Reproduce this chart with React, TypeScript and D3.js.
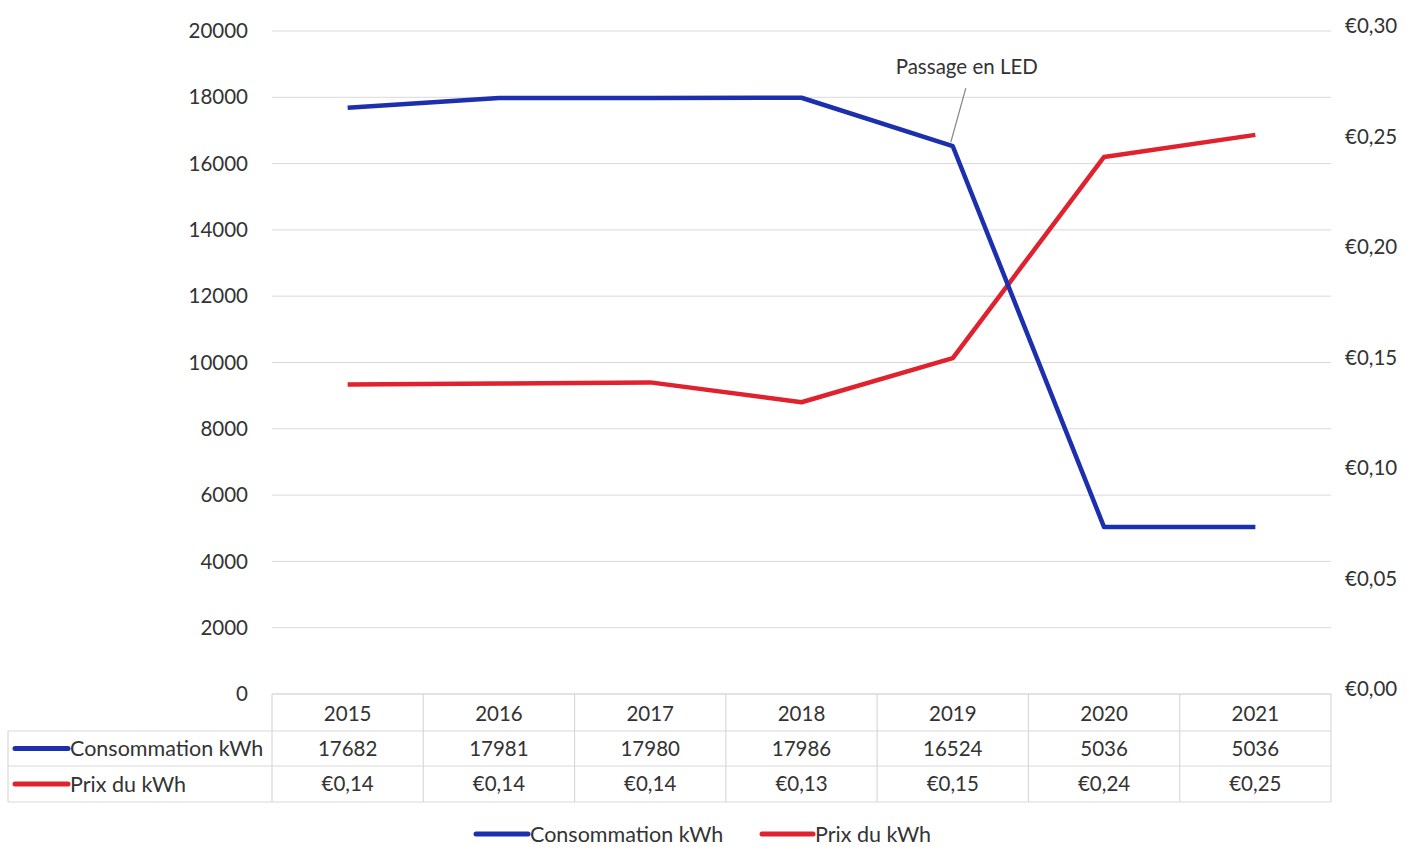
import React from 'react';
import * as d3 from 'd3';

// values
const years = ['2015', '2016', '2017', '2018', '2019', '2020', '2021'];
const consommation = [17682, 17981, 17980, 17986, 16524, 5036, 5036];
const consoLabels = ['17682', '17981', '17980', '17986', '16524', '5036', '5036'];
const prix = [0.14, 0.1405, 0.141, 0.132, 0.152, 0.243, 0.253];
const prixLabels = ['€0,14', '€0,14', '€0,14', '€0,13', '€0,15', '€0,24', '€0,25'];
const leftTicks = [0, 2000, 4000, 6000, 8000, 10000, 12000, 14000, 16000, 18000, 20000];
const rightTicks = [0, 0.05, 0.1, 0.15, 0.2, 0.25, 0.3];

const W = 1406;
const H = 847;
const FONT = 'Lato, "Open Sans", sans-serif';
const BLUE = '#1c2fae';
const RED = '#e0222f';
const GRID = '#d9d9d9';
const TXT = '#333';
const NUM = 20.5; // digits
const LBL = 21.5; // words

const fmtEuro = (v: number) => '€' + v.toFixed(2).replace('.', ',');

export default function App() {
  const x = d3.scaleBand().domain(years).range([272, 1331]);
  const yL = d3.scaleLinear().domain([0, 20000]).range([694, 31]);
  const yR = d3.scaleLinear().domain([0, 0.3]).range([694, 31]);
  const cx = (y: string) => (x(y) ?? 0) + x.bandwidth() / 2;

  const lineL = d3.line<number>().x((_, i) => cx(years[i])).y(d => yL(d));
  const lineR = d3.line<number>().x((_, i) => cx(years[i])).y(d => yR(d));

  // table rows
  const rowTop = [694, 731, 766];
  const rowBot = 802;
  const labelX0 = 8;
  const r2 = (rowTop[1] + rowTop[2]) / 2;
  const r3 = (rowTop[2] + rowBot) / 2;

  const ann = { x: cx('2019'), y: yL(consommation[4]) };

  return (
    <svg width={W} height={H} style={{ position: 'absolute', left: 0, top: 0, background: '#fff' }}
      fontFamily={FONT}>
      {/* grid lines */}
      {leftTicks.map(t => (
        <line key={'g' + t} x1={272} x2={1331} y1={yL(t)} y2={yL(t)} stroke={GRID} strokeWidth={1} />
      ))}
      {/* left axis labels */}
      {leftTicks.map(t => (
        <text key={'l' + t} x={248} y={yL(t)} dy="0.35em" textAnchor="end" fontSize={NUM} fill={TXT}>
          {t}
        </text>
      ))}
      {/* right axis labels */}
      {rightTicks.map(t => (
        <text key={'r' + t} x={1345} y={yR(t) - 5} dy="0.35em" textAnchor="start" fontSize={NUM} fill={TXT}>
          {fmtEuro(t)}
        </text>
      ))}

      {/* series */}
      <path d={lineR(prix) ?? ''} fill="none" stroke={RED} strokeWidth={4.5} strokeLinejoin="round" />
      <path d={lineL(consommation) ?? ''} fill="none" stroke={BLUE} strokeWidth={4.5} strokeLinejoin="round" />

      {/* annotation */}
      <line x1={ann.x + 13} y1={ann.y - 58} x2={ann.x - 2} y2={ann.y - 4} stroke="#888" strokeWidth={1.2} />
      <text x={ann.x + 14} y={ann.y - 79} dy="0.35em" textAnchor="middle" fontSize={LBL - 1} fill={TXT}>Passage en LED</text>

      {/* data table */}
      <g stroke={GRID} strokeWidth={1.2} fill="none">
        <line x1={272} x2={1331} y1={rowTop[0]} y2={rowTop[0]} />
        <line x1={labelX0} x2={1331} y1={rowTop[1]} y2={rowTop[1]} />
        <line x1={labelX0} x2={1331} y1={rowTop[2]} y2={rowTop[2]} />
        <line x1={labelX0} x2={1331} y1={rowBot} y2={rowBot} />
        <line x1={labelX0} x2={labelX0} y1={rowTop[1]} y2={rowBot} />
        {years.map(y => (
          <line key={'v' + y} x1={x(y)} x2={x(y)} y1={rowTop[0]} y2={rowBot} />
        ))}
        <line x1={1331} x2={1331} y1={rowTop[0]} y2={rowBot} />
      </g>
      {years.map(y => (
        <text key={'hy' + y} x={cx(y)} y={(rowTop[0] + rowTop[1]) / 2 + 1} dy="0.35em" textAnchor="middle" fontSize={NUM} fill={TXT}>
          {y}
        </text>
      ))}
      {years.map((y, i) => (
        <text key={'c' + y} x={cx(y)} y={r2} dy="0.35em" textAnchor="middle" fontSize={NUM} fill={TXT}>
          {consoLabels[i]}
        </text>
      ))}
      {years.map((y, i) => (
        <text key={'p' + y} x={cx(y)} y={r3} dy="0.35em" textAnchor="middle" fontSize={NUM} fill={TXT}>
          {prixLabels[i]}
        </text>
      ))}
      {/* row labels with keys */}
      <line x1={15} x2={68} y1={r2} y2={r2} stroke={BLUE} strokeWidth={5} strokeLinecap="round" />
      <text x={70} y={r2} dy="0.35em" fontSize={LBL} fill={TXT}>Consommation kWh</text>
      <line x1={15} x2={68} y1={r3} y2={r3} stroke={RED} strokeWidth={5} strokeLinecap="round" />
      <text x={70} y={r3} dy="0.35em" fontSize={LBL} fill={TXT}>Prix du kWh</text>

      {/* legend */}
      <line x1={476} x2={528} y1={834} y2={834} stroke={BLUE} strokeWidth={5} strokeLinecap="round" />
      <text x={530} y={834} dy="0.35em" fontSize={LBL} fill={TXT}>Consommation kWh</text>
      <line x1={762} x2={813} y1={834} y2={834} stroke={RED} strokeWidth={5} strokeLinecap="round" />
      <text x={815} y={834} dy="0.35em" fontSize={LBL} fill={TXT}>Prix du kWh</text>
    </svg>
  );
}
